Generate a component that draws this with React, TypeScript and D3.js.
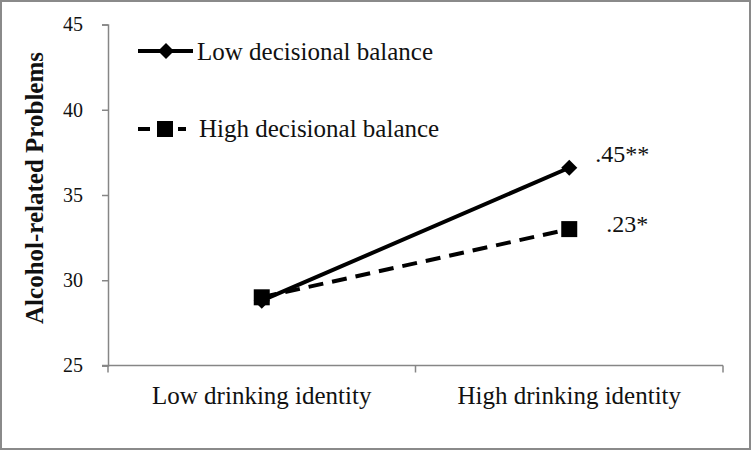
import React, { useEffect, useRef } from 'react';
import * as d3 from 'd3';

// chart data
const categories = ['Low drinking identity', 'High drinking identity'];
const lowBalance = [28.8, 36.6];
const highBalance = [29.0, 33.0];
const slopeLabels = ['.45**', '.23*'];
const yTicks = [25, 30, 35, 40, 45];
const seriesNames = ['Low decisional balance', 'High decisional balance'];

const App = () => {
  const svgRef = useRef<SVGSVGElement>(null);

  useEffect(() => {
    const width = 752;
    const height = 451;
    const margin = { top: 25, right: 29, bottom: 86, left: 108 };
    const font = '"Liberation Serif", "Times New Roman", serif';

    const svg = d3.select(svgRef.current);
    svg.selectAll('*').remove();

    // outer frame
    svg.append('rect')
      .attr('x', 1).attr('y', 1)
      .attr('width', width - 3).attr('height', height - 3)
      .attr('fill', 'white')
      .attr('stroke', '#8a8a8a')
      .attr('stroke-width', 2);

    const x = d3.scaleBand().domain(categories)
      .range([margin.left, width - margin.right]);
    const y = d3.scaleLinear().domain([25, 45])
      .range([height - margin.bottom + 0.5, margin.top - 0.5]);

    const axisColor = '#868686';

    // y axis
    const yAxis = svg.append('g')
      .attr('transform', `translate(${margin.left},0)`)
      .call(d3.axisLeft(y).tickValues(yTicks).tickSize(6).tickPadding(19));
    yAxis.select('.domain').attr('stroke', axisColor).attr('stroke-width', 1.5);
    yAxis.selectAll('line').attr('stroke', axisColor).attr('stroke-width', 1.5);
    yAxis.selectAll('text')
      .attr('font-family', font).attr('font-size', 20).attr('fill', '#111');

    // x axis, ticks between categories
    const x0 = margin.left;
    const x1 = width - margin.right;
    const yBase = y(25);
    svg.append('line')
      .attr('x1', x0 - 6).attr('x2', x1)
      .attr('y1', yBase).attr('y2', yBase)
      .attr('stroke', axisColor).attr('stroke-width', 1.5);
    const bounds = [x0, ...categories.map((c) => (x(c) as number) + x.bandwidth())];
    svg.selectAll('.xtick')
      .data(bounds)
      .enter()
      .append('line')
      .attr('x1', (d) => d).attr('x2', (d) => d)
      .attr('y1', yBase).attr('y2', yBase + 7)
      .attr('stroke', axisColor).attr('stroke-width', 1.5);
    svg.selectAll('.xlab')
      .data(categories)
      .enter()
      .append('text')
      .attr('x', (d) => (x(d) as number) + x.bandwidth() / 2)
      .attr('y', yBase + 38)
      .attr('text-anchor', 'middle')
      .attr('font-family', font).attr('font-size', 25).attr('fill', '#111')
      .text((d) => d);

    // y title
    svg.append('text')
      .attr('transform', `translate(43,188) rotate(-90)`)
      .attr('text-anchor', 'middle')
      .attr('font-family', font).attr('font-size', 25).attr('font-weight', 'bold')
      .attr('fill', '#111')
      .text('Alcohol-related Problems');

    const cx = (i: number) => (x(categories[i]) as number) + x.bandwidth() / 2;
    const line = d3.line<number>().x((_, i) => cx(i)).y((d) => y(d));

    // high balance (dashed, squares)
    svg.append('path')
      .attr('d', line(highBalance))
      .attr('fill', 'none').attr('stroke', 'black')
      .attr('stroke-width', 4).attr('stroke-dasharray', '15,9');
    svg.selectAll('.sq')
      .data(highBalance)
      .enter()
      .append('rect')
      .attr('x', (d, i) => cx(i) - 8).attr('y', (d) => y(d) - 8)
      .attr('width', 16).attr('height', 16).attr('fill', 'black');

    // low balance (solid, diamonds)
    svg.append('path')
      .attr('d', line(lowBalance))
      .attr('fill', 'none').attr('stroke', 'black').attr('stroke-width', 4);
    const diamond = d3.symbol().type(d3.symbolDiamond2).size(165);
    svg.selectAll('.dm')
      .data(lowBalance)
      .enter()
      .append('path')
      .attr('d', diamond)
      .attr('transform', (d, i) => `translate(${cx(i)},${y(d)})`)
      .attr('fill', 'black');

    // slope labels
    svg.append('text')
      .attr('x', cx(1) + 26).attr('y', y(lowBalance[1]) - 6)
      .attr('font-family', font).attr('font-size', 24).attr('fill', '#111')
      .text(slopeLabels[0]);
    svg.append('text')
      .attr('x', cx(1) + 37).attr('y', y(highBalance[1]) + 3)
      .attr('font-family', font).attr('font-size', 24).attr('fill', '#111')
      .text(slopeLabels[1]);

    // legend
    const leg = svg.append('g');
    leg.append('line')
      .attr('x1', 138).attr('x2', 193).attr('y1', 51).attr('y2', 51)
      .attr('stroke', 'black').attr('stroke-width', 4);
    leg.append('path').attr('d', diamond).attr('transform', 'translate(166,51)');
    leg.append('line')
      .attr('x1', 138).attr('x2', 186).attr('y1', 129).attr('y2', 129)
      .attr('stroke', 'black').attr('stroke-width', 4).attr('stroke-dasharray', '12,8');
    leg.append('rect').attr('x', 157).attr('y', 121).attr('width', 16).attr('height', 16);
    leg.selectAll('text')
      .data(seriesNames)
      .enter()
      .append('text')
      .attr('x', (d, i) => (i === 0 ? 197 : 199))
      .attr('y', (d, i) => (i === 0 ? 60 : 137))
      .attr('font-family', font).attr('font-size', 25).attr('fill', '#111')
      .text((d) => d);
  }, []);

  return (
    <div style={{ position: 'absolute', left: 0, top: 0 }}>
      <svg ref={svgRef} width={752} height={451} style={{ display: 'block' }} />
    </div>
  );
};

export default App;
